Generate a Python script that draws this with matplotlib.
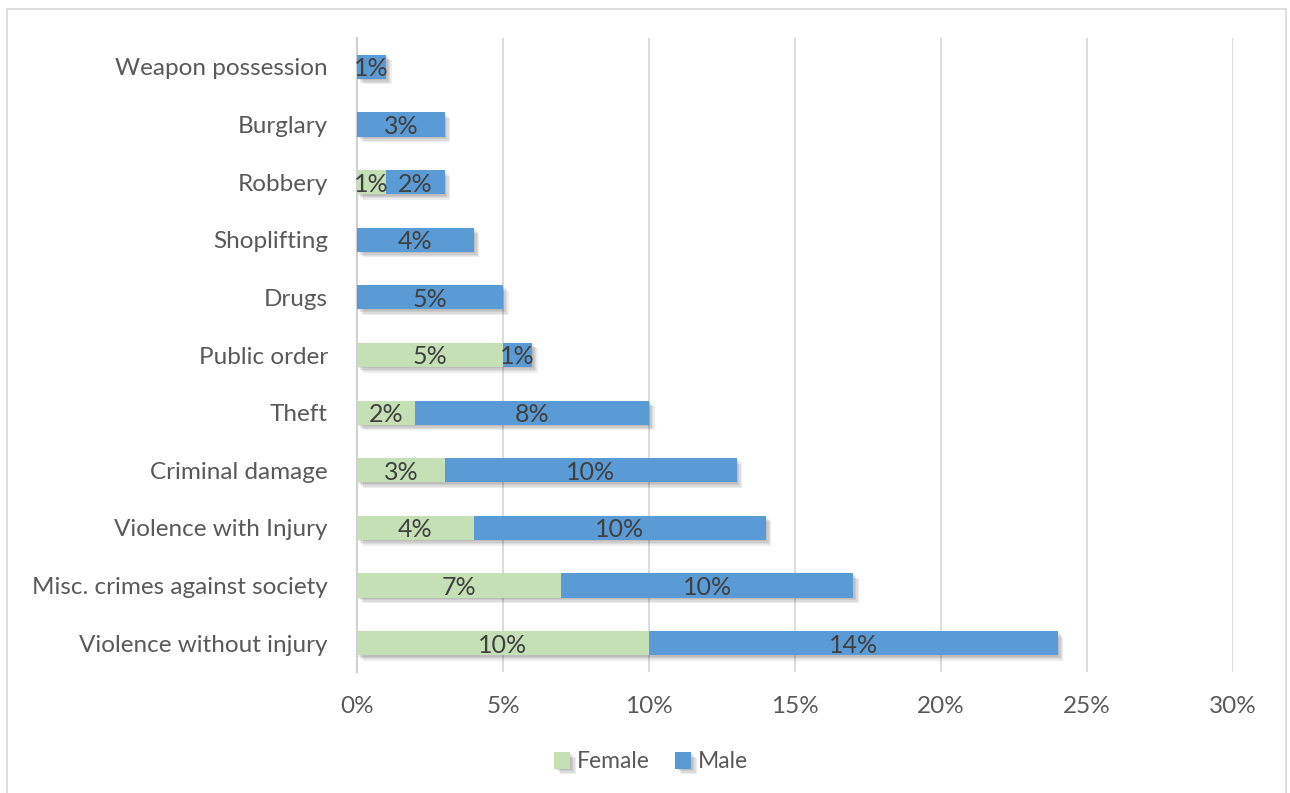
import matplotlib.pyplot as plt
import matplotlib.patheffects as pe
from matplotlib.patches import Rectangle

plt.rcParams['font.family'] = ['Lato', 'DejaVu Sans']

crimes = ["Violence without injury", "Misc. crimes against society", "Violence with Injury",
          "Criminal damage", "Theft", "Public order", "Drugs", "Shoplifting",
          "Robbery", "Burglary", "Weapon possession"]
female = [10, 7, 4, 3, 2, 5, 0, 0, 1, 0, 0]
male = [14, 10, 10, 10, 8, 1, 5, 4, 2, 3, 1]
ticks = [0, 5, 10, 15, 20, 25, 30]

fig = plt.figure(figsize=(12.9, 7.93), dpi=100)
ax = fig.add_axes([357/1290, 1 - 672/793, (1233 - 357)/1290, (672 - 38)/793])

# outer chart frame
fig.patches.append(Rectangle((7/1290, -0.01), (1286 - 7)/1290, 1 - 9/793 + 0.01,
                             transform=fig.transFigure, fill=False,
                             edgecolor='#D9D9D9', linewidth=1.2))

# soft drop shadow under the bars
shadow = [pe.SimplePatchShadow(offset=(o, -o), shadow_rgbFace='#000000', alpha=0.07)
          for o in (1, 2, 3, 4)] + [pe.Normal()]
y = range(len(crimes))
fb = ax.barh(y, female, height=0.42, color='#C5E0B4', label='Female', zorder=3)
mb = ax.barh(y, male, left=female, height=0.42, color='#5B9BD5', label='Male', zorder=3)
for b in list(fb) + list(mb):
    b.set_path_effects(shadow)

for i in y:
    if female[i] > 0:
        ax.text(female[i] / 2, i, f"{female[i]}%", ha='center', va='center_baseline',
                fontsize=18, color='#404040', zorder=4)
    ax.text(female[i] + male[i] / 2, i, f"{male[i]}%", ha='center', va='center_baseline',
            fontsize=18, color='#404040', zorder=4)

ax.set_xlim(0, 30)
ax.set_ylim(-0.5, len(crimes) - 0.5)
ax.set_xticks(ticks)
ax.set_xticklabels([f"{t}%" for t in ticks])
ax.set_yticks(list(y))
ax.set_yticklabels(crimes)
ax.tick_params(length=0, labelsize=17.5, labelcolor='#595959')
ax.tick_params(axis='x', pad=17)
ax.tick_params(axis='y', pad=21)
ax.xaxis.grid(True, color='#D9D9D9', linewidth=1.3, zorder=0)
for s in ['top', 'right', 'bottom']:
    ax.spines[s].set_visible(False)
ax.spines['left'].set_color('#D0D0D0')
ax.spines['left'].set_linewidth(1.5)

handles, labels = ax.get_legend_handles_labels()
fig.legend(handles, labels, loc='center', bbox_to_anchor=(0.505, 1 - 762/793), ncol=2,
           frameon=False, fontsize=16.5, labelcolor='#595959', handlelength=0.7,
           handleheight=0.7, handletextpad=0.3, columnspacing=1.1)

plt.savefig('out.png', dpi=100)
